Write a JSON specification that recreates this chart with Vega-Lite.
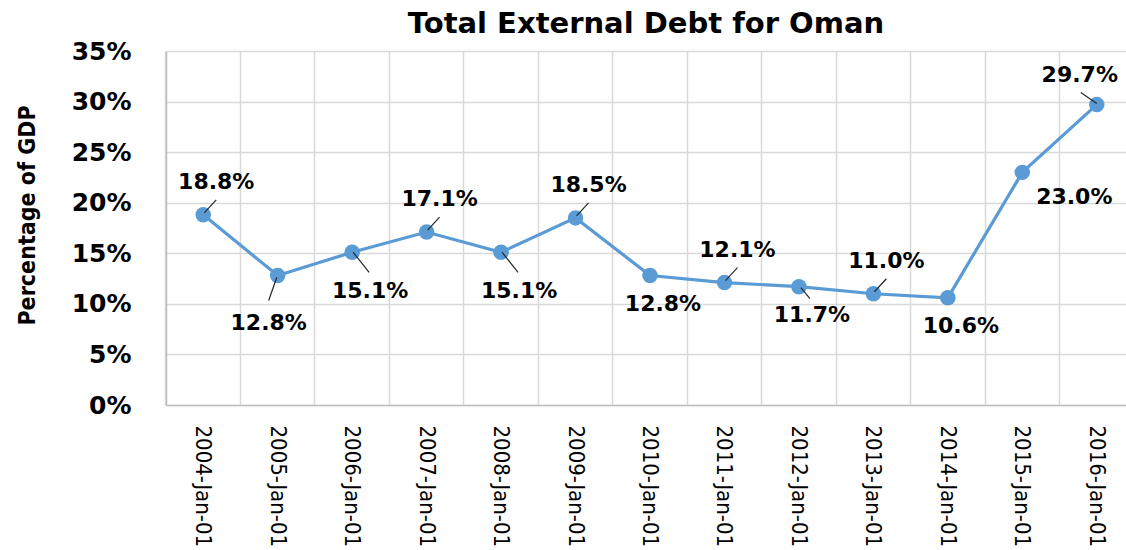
{
  "$schema": "https://vega.github.io/schema/vega-lite/v6.json",
  "autosize": {"type": "none"},
  "width": 960,
  "height": 354,
  "padding": {"left": 166, "top": 51, "right": 0, "bottom": 145},
  "background": "white",
  "title": {"text": "Total External Debt for Oman", "font": "DejaVu Sans", "fontSize": 29, "fontWeight": "bold", "color": "#000000", "anchor": "middle", "frame": "group", "offset": 0},
  "config": {"view": {"stroke": null}},
  "data": {"values": [
    {"date": "2004-Jan-01", "debt": 0.188},
    {"date": "2005-Jan-01", "debt": 0.128},
    {"date": "2006-Jan-01", "debt": 0.151},
    {"date": "2007-Jan-01", "debt": 0.171},
    {"date": "2008-Jan-01", "debt": 0.151},
    {"date": "2009-Jan-01", "debt": 0.185},
    {"date": "2010-Jan-01", "debt": 0.128},
    {"date": "2011-Jan-01", "debt": 0.121},
    {"date": "2012-Jan-01", "debt": 0.117},
    {"date": "2013-Jan-01", "debt": 0.110},
    {"date": "2014-Jan-01", "debt": 0.106},
    {"date": "2015-Jan-01", "debt": 0.230},
    {"date": "2016-Jan-01", "debt": 0.297}
  ]},
  "encoding": {
    "x": {"field": "date", "type": "ordinal", "sort": null,
      "scale": {"type": "band", "range": [0, 968], "paddingInner": 0, "paddingOuter": 0},
      "axis": {"orient": "bottom", "title": null, "labelAngle": 90, "labelAlign": "left", "labelBaseline": "middle", "labelFont": "DejaVu Sans Condensed", "labelFontSize": 22, "labelColor": "#000000", "labelPadding": 20, "ticks": false, "tickSize": 0, "grid": false, "domainColor": "#bfbfbf", "domainWidth": 1.5, "labelOverlap": false}},
    "y": {"field": "debt", "type": "quantitative",
      "scale": {"domain": [0, 0.35], "nice": false, "zero": true},
      "axis": {"values": [0, 0.05, 0.1, 0.15, 0.2, 0.25, 0.3, 0.35], "format": ".0%", "title": "Percentage of GDP",
        "labelFont": "DejaVu Sans", "labelFontWeight": "bold", "labelFontSize": 25, "labelColor": "#000000", "labelPadding": 35,
        "ticks": false, "tickSize": 0, "grid": true, "gridColor": "#d9d9d9", "gridWidth": 1.5, "domainColor": "#bfbfbf", "domainWidth": 1.5,
        "titleFont": "DejaVu Sans Condensed", "titleFontSize": 23, "titleFontWeight": "bold", "titleColor": "#000000",
        "titleX": -132, "titleY": 164, "titleBaseline": "alphabetic", "titleAngle": -90}}
  },
  "layer": [
    {
      "mark": {"type": "line", "color": "#5b9bd5", "strokeWidth": 3.2},
      "encoding": {
        "x": {"field": "date", "type": "ordinal", "sort": null,
          "axis": {"orient": "bottom", "bandPosition": 0, "grid": true, "gridColor": "#d9d9d9", "gridWidth": 1.5, "labels": false, "ticks": false, "domain": false, "title": null}}
      }
    },
    {
      "layer": [
        {"mark": {"type": "circle", "size": 240, "color": "#5b9bd5", "opacity": 1}},
        {
          "transform": [{"filter": {"field": "date", "oneOf": ["2004-Jan-01", "2007-Jan-01", "2009-Jan-01", "2011-Jan-01", "2013-Jan-01"]}}],
          "mark": {"type": "rule", "color": "#262626", "strokeWidth": 1.2, "xOffset": 1, "yOffset": -2, "x2Offset": 13, "y2Offset": -15},
          "encoding": {"x2": {"field": "date"}, "y2": {"field": "debt"}}
        },
        {
          "transform": [{"filter": {"field": "date", "oneOf": ["2004-Jan-01", "2007-Jan-01", "2009-Jan-01", "2011-Jan-01", "2013-Jan-01"]}}],
          "mark": {"type": "text", "font": "DejaVu Sans", "fontWeight": "bold", "fontSize": 22, "color": "#000000", "align": "center", "baseline": "middle", "dx": 13, "dy": -33},
          "encoding": {"text": {"field": "debt", "type": "quantitative", "format": ".1%"}}
        },
        {
          "transform": [{"filter": {"field": "date", "oneOf": ["2005-Jan-01"]}}],
          "mark": {"type": "rule", "color": "#262626", "strokeWidth": 1.2, "xOffset": -1, "yOffset": 2, "x2Offset": -9, "y2Offset": 25},
          "encoding": {"x2": {"field": "date"}, "y2": {"field": "debt"}}
        },
        {
          "transform": [{"filter": {"field": "date", "oneOf": ["2005-Jan-01"]}}],
          "mark": {"type": "text", "font": "DejaVu Sans", "fontWeight": "bold", "fontSize": 22, "color": "#000000", "align": "center", "baseline": "middle", "dx": -9, "dy": 47},
          "encoding": {"text": {"field": "debt", "type": "quantitative", "format": ".1%"}}
        },
        {
          "transform": [{"filter": {"field": "date", "oneOf": ["2006-Jan-01", "2008-Jan-01"]}}],
          "mark": {"type": "rule", "color": "#262626", "strokeWidth": 1.2, "xOffset": 1, "yOffset": 0, "x2Offset": 17, "y2Offset": 20},
          "encoding": {"x2": {"field": "date"}, "y2": {"field": "debt"}}
        },
        {
          "transform": [{"filter": {"field": "date", "oneOf": ["2006-Jan-01", "2008-Jan-01"]}}],
          "mark": {"type": "text", "font": "DejaVu Sans", "fontWeight": "bold", "fontSize": 22, "color": "#000000", "align": "center", "baseline": "middle", "dx": 18, "dy": 39},
          "encoding": {"text": {"field": "debt", "type": "quantitative", "format": ".1%"}}
        },
        {
          "transform": [{"filter": {"field": "date", "oneOf": ["2012-Jan-01"]}}],
          "mark": {"type": "rule", "color": "#262626", "strokeWidth": 1.2, "xOffset": 2, "yOffset": 1, "x2Offset": 11, "y2Offset": 12},
          "encoding": {"x2": {"field": "date"}, "y2": {"field": "debt"}}
        },
        {
          "transform": [{"filter": {"field": "date", "oneOf": ["2010-Jan-01", "2012-Jan-01", "2014-Jan-01"]}}],
          "mark": {"type": "text", "font": "DejaVu Sans", "fontWeight": "bold", "fontSize": 22, "color": "#000000", "align": "center", "baseline": "middle", "dx": 13, "dy": 28},
          "encoding": {"text": {"field": "debt", "type": "quantitative", "format": ".1%"}}
        },
        {
          "transform": [{"filter": {"field": "date", "oneOf": ["2015-Jan-01"]}}],
          "mark": {"type": "text", "font": "DejaVu Sans", "fontWeight": "bold", "fontSize": 22, "color": "#000000", "align": "center", "baseline": "middle", "dx": 52, "dy": 25},
          "encoding": {"text": {"field": "debt", "type": "quantitative", "format": ".1%"}}
        },
        {
          "transform": [{"filter": {"field": "date", "oneOf": ["2016-Jan-01"]}}],
          "mark": {"type": "rule", "color": "#262626", "strokeWidth": 1.2, "xOffset": 0, "yOffset": -1, "x2Offset": -16, "y2Offset": -12},
          "encoding": {"x2": {"field": "date"}, "y2": {"field": "debt"}}
        },
        {
          "transform": [{"filter": {"field": "date", "oneOf": ["2016-Jan-01"]}}],
          "mark": {"type": "text", "font": "DejaVu Sans", "fontWeight": "bold", "fontSize": 22, "color": "#000000", "align": "center", "baseline": "middle", "dx": -17, "dy": -30},
          "encoding": {"text": {"field": "debt", "type": "quantitative", "format": ".1%"}}
        }
      ]
    }
  ],
  "resolve": {"axis": {"x": "independent"}}
}
